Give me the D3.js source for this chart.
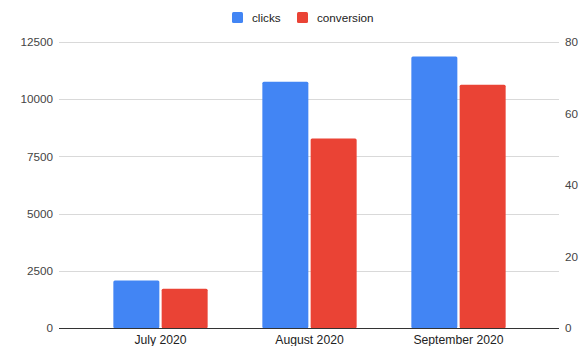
<!DOCTYPE html>
<html>
<head>
<meta charset="utf-8">
<script src="https://cdn.jsdelivr.net/npm/d3@7/dist/d3.min.js"></script>
<style>
  html, body { margin: 0; padding: 0; background: #fff; }
  svg { display: block; font-family: "Liberation Sans", Arial, sans-serif; }
</style>
</head>
<body>
<svg id="chart" width="582" height="346"></svg>
<script>
// Monthly clicks (left axis) and conversion (right axis)
const categories = ["July 2020", "August 2020", "September 2020"];
const clicks = [2080, 10750, 11850];
const conversion = [11, 53, 68];
const seriesNames = ["clicks", "conversion"];
const seriesColors = ["#4285f4", "#ea4335"];
const leftTicks = [0, 2500, 5000, 7500, 10000, 12500];
const rightTicks = [0, 20, 40, 60, 80];

const svg = d3.select("#chart");
const gridLeft = 59, gridRight = 559;
const plotTop = 41.7, plotBottom = 328.2;

const x = d3.scaleBand().domain(categories).range([86, 533]);
const yL = d3.scaleLinear().domain([0, 12500]).range([plotBottom, plotTop]);
const yR = d3.scaleLinear().domain([0, 80]).range([plotBottom, plotTop]);

// Gridlines
svg.append("g").selectAll("line")
  .data(leftTicks.filter(d => d !== 0))
  .join("line")
  .attr("x1", gridLeft).attr("x2", gridRight)
  .attr("y1", d => Math.round(yL(d)) + 0.5).attr("y2", d => Math.round(yL(d)) + 0.5)
  .attr("stroke", "#d9d9d9").attr("stroke-width", 1);

// Left axis labels
const leftAxis = d3.axisLeft(yL).tickValues(leftTicks).tickSize(0).tickPadding(0).tickFormat(d3.format("d"));
const gl = svg.append("g").attr("transform", "translate(53,0)").call(leftAxis);
gl.select(".domain").remove();
gl.selectAll("text").attr("fill", "#444").style("font-size", "11.7px").attr("font-family", null);

// Right axis labels
const rightAxis = d3.axisRight(yR).tickValues(rightTicks).tickSize(0).tickPadding(0).tickFormat(d3.format("d"));
const gr = svg.append("g").attr("transform", "translate(565,0)").call(rightAxis);
gr.select(".domain").remove();
gr.selectAll("text").attr("fill", "#444").style("font-size", "11.7px").attr("font-family", null);

// Bars
const barW = 46, gap = 2.3;
const groupW = barW * 2 + gap;
const data = categories.map((c, i) => ({ c, clicks: clicks[i], conversion: conversion[i] }));
const gBars = svg.append("g");
data.forEach(d => {
  const cx = x(d.c) + x.bandwidth() / 2;
  const x0 = cx - groupW / 2;
  gBars.append("rect")
    .attr("x", x0).attr("width", barW)
    .attr("y", yL(d.clicks)).attr("height", plotBottom - yL(d.clicks))
    .attr("rx", 1.5).attr("fill", seriesColors[0]);
  gBars.append("rect")
    .attr("x", x0 + barW + gap).attr("width", barW)
    .attr("y", yR(d.conversion)).attr("height", plotBottom - yR(d.conversion))
    .attr("rx", 1.5).attr("fill", seriesColors[1]);
});

// Baseline
svg.append("line")
  .attr("x1", gridLeft).attr("x2", gridRight)
  .attr("y1", Math.round(plotBottom) + 0.5).attr("y2", Math.round(plotBottom) + 0.5)
  .attr("stroke", "#333").attr("stroke-width", 1);

// Category labels
const xAxis = d3.axisBottom(x).tickSize(0).tickPadding(0);
const gx = svg.append("g").attr("transform", `translate(0,${plotBottom + 7})`).call(xAxis);
gx.select(".domain").remove();
gx.selectAll("text").attr("fill", "#222").style("font-size", "12.2px").attr("font-family", null).attr("dy", "0.71em");

// Legend
const legend = svg.append("g");
const legendItems = [{ x: 232, text: seriesNames[0], color: seriesColors[0] },
                     { x: 297, text: seriesNames[1], color: seriesColors[1] }];
legendItems.forEach(it => {
  legend.append("rect").attr("x", it.x).attr("y", 12).attr("width", 11).attr("height", 11)
    .attr("rx", 1.5).attr("fill", it.color);
  legend.append("text").attr("x", it.x + 20).attr("y", 21.5)
    .attr("fill", "#222").style("font-size", "11.7px").text(it.text);
});
</script>
</body>
</html>
